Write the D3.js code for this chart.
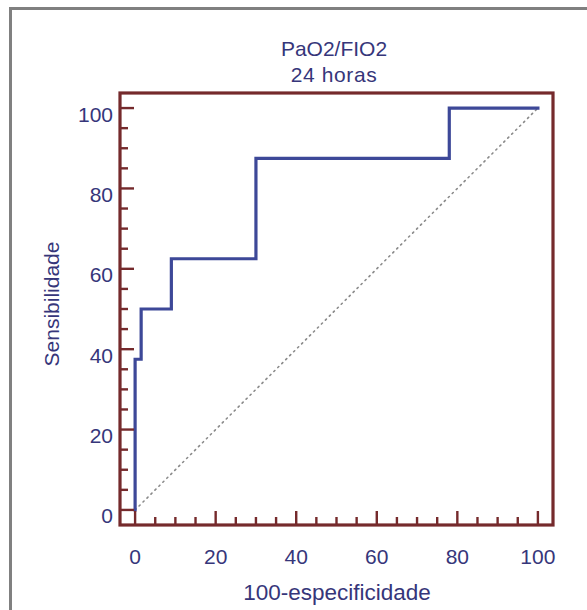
<!DOCTYPE html>
<html>
<head>
<meta charset="utf-8">
<script src="https://cdn.jsdelivr.net/npm/d3@7/dist/d3.min.js"></script>
<style>
  html, body { margin: 0; padding: 0; background: #fff; }
  svg { display: block; }
  text { font-family: "Liberation Sans", Arial, sans-serif; fill: #36367a; }
</style>
</head>
<body>
<script>
// ROC curve: PaO2/FIO2 at 24 hours
const falsePositiveRate = [0, 0, 1.5, 1.5, 9, 9, 30, 30, 78, 78, 100]; // 100-especificidade
const sensitivity       = [0, 37.5, 37.5, 50, 50, 62.5, 62.5, 87.5, 87.5, 100, 100];
const majorTicks = [0, 20, 40, 60, 80, 100];
const minorTicks = d3.range(0, 101, 5).filter(v => v % 20 !== 0);
const titleLines = ["PaO2/FIO2", "24 horas"];
const xTitle = "100-especificidade";
const yTitle = "Sensibilidade";

const W = 587, H = 610;
const frame = { left: 120, top: 93, right: 553, bottom: 525 };
const frameColor = "#752a2c";
const curveColor = "#3d4898";

const svg = d3.select("body").append("svg").attr("width", W).attr("height", H);

// outer panel border (only left and top edges fall inside the page)
svg.append("rect")
  .attr("x", 10.5).attr("y", 8.5).attr("width", W + 20).attr("height", H + 20)
  .attr("fill", "none").attr("stroke", "#808080").attr("stroke-width", 3);

const x = d3.scaleLinear().domain([-3.75, 103.75]).range([frame.left, frame.right]);
const y = d3.scaleLinear().domain([-3.75, 103.75]).range([frame.bottom, frame.top]);

// chance diagonal
svg.append("line")
  .attr("x1", x(0)).attr("y1", y(0)).attr("x2", x(100)).attr("y2", y(100))
  .attr("stroke", "#8a8a8a").attr("stroke-width", 1.6)
  .attr("stroke-dasharray", "1.4,4.2").attr("stroke-linecap", "round");

// ROC step curve
const pts = falsePositiveRate.map((v, i) => [v, sensitivity[i]]);
svg.append("path")
  .attr("d", d3.line().x(d => x(d[0])).y(d => y(d[1]))(pts))
  .attr("fill", "none").attr("stroke", curveColor).attr("stroke-width", 3.2)
  .attr("stroke-linejoin", "miter").attr("stroke-linecap", "square");

// ticks pointing inward from bottom and left frame edges
const gT = svg.append("g").attr("stroke", frameColor).attr("stroke-width", 2.4);
majorTicks.forEach(v => {
  gT.append("line").attr("x1", x(v)).attr("x2", x(v)).attr("y1", frame.bottom).attr("y2", frame.bottom - 14);
  gT.append("line").attr("y1", y(v)).attr("y2", y(v)).attr("x1", frame.left).attr("x2", frame.left + 14);
});
minorTicks.forEach(v => {
  gT.append("line").attr("x1", x(v)).attr("x2", x(v)).attr("y1", frame.bottom).attr("y2", frame.bottom - 8);
  gT.append("line").attr("y1", y(v)).attr("y2", y(v)).attr("x1", frame.left).attr("x2", frame.left + 8);
});

// plot frame
svg.append("rect")
  .attr("x", frame.left).attr("y", frame.top)
  .attr("width", frame.right - frame.left).attr("height", frame.bottom - frame.top)
  .attr("fill", "none").attr("stroke", frameColor).attr("stroke-width", 3.2);

// tick labels
svg.append("g").selectAll("text").data(majorTicks).join("text")
  .attr("x", d => x(d)).attr("y", 564).attr("text-anchor", "middle")
  .style("font-size", "21px").text(d => d);
svg.append("g").selectAll("text").data(majorTicks).join("text")
  .attr("x", 113).attr("y", d => y(d) + 8).attr("text-anchor", "end")
  .attr("dominant-baseline", "middle")
  .style("font-size", "21px").text(d => d);

// titles
const cx = 334;
svg.append("text").attr("x", cx).attr("y", 56).attr("text-anchor", "middle")
  .style("font-size", "21px").text(titleLines[0]);
svg.append("text").attr("x", cx).attr("y", 82).attr("text-anchor", "middle")
  .style("font-size", "21px").style("letter-spacing", "0.6px").text(titleLines[1]);
svg.append("text").attr("x", 337).attr("y", 600).attr("text-anchor", "middle")
  .style("font-size", "22.5px").text(xTitle);
svg.append("text")
  .attr("transform", `translate(59, 304) rotate(-90)`)
  .attr("text-anchor", "middle")
  .style("font-size", "21px").text(yTitle);
</script>
</body>
</html>
